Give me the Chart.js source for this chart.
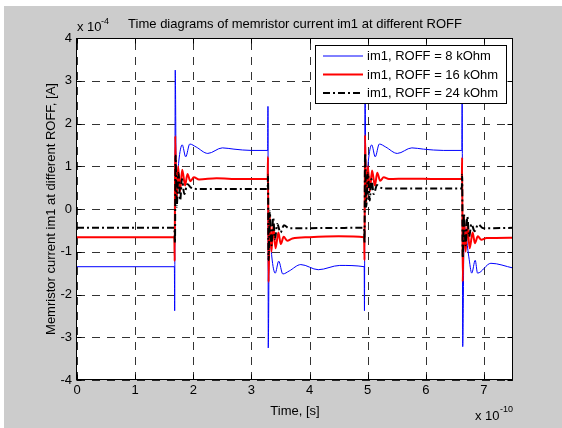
<!DOCTYPE html>
<html>
<head>
<meta charset="utf-8">
<script src="https://cdn.jsdelivr.net/npm/chart.js@4.4.0/dist/chart.umd.min.js"></script>
<style>
  html, body { margin: 0; padding: 0; background: #fff; }
  #wrap { width: 562px; height: 428px; }
</style>
</head>
<body>
<div id="wrap"><canvas id="chart" width="562" height="428"></canvas></div>
<script>
// time in units of 1e-10 s, current in units of 1e-4 A
const seriesLabels = ["im1, ROFF = 8 kOhm", "im1, ROFF = 16 kOhm", "im1, ROFF = 24 kOhm"];
const xTicks = [0, 1, 2, 3, 4, 5, 6, 7];
const yTicks = [-4, -3, -2, -1, 0, 1, 2, 3, 4];

// ROFF = 8 kOhm
const timeBlue = [0, 1.675, 1.68, 1.69, 1.71, 1.75, 1.81, 1.87, 1.94, 2.05, 2.25, 2.50, 2.70, 3.00, 3.28,
  3.285, 3.29, 3.31, 3.35, 3.41, 3.47, 3.54, 3.65, 3.85, 4.15, 4.52, 4.94,
  4.945, 4.955, 4.97, 5.01, 5.07, 5.13, 5.20, 5.31, 5.51, 5.76, 5.96, 6.30, 6.62,
  6.625, 6.635, 6.66, 6.74, 6.79, 6.85, 6.89, 7.12, 7.50];
const currBlue = [-1.35, -1.35, -2.38, 3.25, 0.30, 1.10, 1.50, 1.22, 1.52, 1.45, 1.30, 1.43, 1.40, 1.37, 1.37,
  2.40, -3.25, -0.30, -1.10, -1.50, -1.22, -1.52, -1.45, -1.30, -1.42, -1.32, -1.35,
  -2.38, 3.30, 0.30, 1.10, 1.50, 1.22, 1.52, 1.45, 1.30, 1.43, 1.40, 1.37, 1.37,
  3.00, -3.22, -0.40, -1.12, -1.50, -1.20, -1.50, -1.27, -1.38];

// ROFF = 16 kOhm
const timeRed = [0, 1.675, 1.68, 1.69, 1.71, 1.74, 1.77, 1.81, 1.86, 1.90, 1.95, 2.01, 2.10, 2.40, 2.80, 3.28,
  3.285, 3.295, 3.315, 3.345, 3.375, 3.415, 3.465, 3.505, 3.555, 3.615, 3.705, 4.00, 4.50, 4.94,
  4.945, 4.955, 4.975, 5.005, 5.035, 5.075, 5.125, 5.165, 5.215, 5.275, 5.365, 5.70, 6.20, 6.62,
  6.625, 6.635, 6.655, 6.685, 6.715, 6.755, 6.805, 6.845, 6.895, 6.955, 7.045, 7.50];
const currRed = [-0.66, -0.66, -1.22, 1.71, 0.15, 1.00, 0.40, 0.92, 0.55, 0.82, 0.65, 0.74, 0.69, 0.72, 0.70, 0.70,
  1.22, -1.71, -0.15, -1.00, -0.40, -0.92, -0.55, -0.82, -0.65, -0.74, -0.69, -0.66, -0.64, -0.66,
  -1.20, 1.73, 0.15, 1.00, 0.40, 0.90, 0.55, 0.85, 0.66, 0.74, 0.70, 0.71, 0.70, 0.70,
  1.20, -1.70, -0.15, -1.00, -0.40, -0.92, -0.55, -0.80, -0.64, -0.72, -0.68, -0.67];

// ROFF = 24 kOhm
const timeBlack = [0, 1.675, 1.685, 1.695, 1.715, 1.745, 1.775, 1.805, 1.845, 1.90, 1.96, 2.05, 3.28,
  3.285, 3.295, 3.315, 3.345, 3.375, 3.405, 3.445, 3.50, 3.56, 3.65, 4.94,
  4.945, 4.955, 4.975, 5.005, 5.035, 5.065, 5.105, 5.16, 5.22, 5.31, 6.62,
  6.625, 6.635, 6.655, 6.685, 6.715, 6.745, 6.785, 6.84, 6.90, 6.99, 7.50];
const currBlack = [-0.44, -0.44, -0.80, 1.25, 0.05, 0.85, 0.20, 0.70, 0.35, 0.58, 0.50, 0.47, 0.47,
  0.80, -1.20, -0.05, -0.85, -0.20, -0.70, -0.35, -0.55, -0.38, -0.45, -0.44,
  -0.80, 1.30, 0.05, 0.85, 0.20, 0.70, 0.35, 0.56, 0.50, 0.48, 0.48,
  0.80, -1.15, -0.10, -0.85, -0.18, -0.65, -0.35, -0.52, -0.36, -0.45, -0.44];

const FONT_FAMILY = '"Liberation Sans", Arial, sans-serif';

function toPoints(times, values) {
  return times.map((t, i) => ({ x: t, y: values[i] }));
}

// grid, box, inward ticks, legend and the matlab style labels
const matlabFrame = {
  id: "matlabFrame",
  beforeDraw(chart) {
    const ctx = chart.ctx;
    const a = chart.chartArea;
    ctx.save();
    ctx.fillStyle = "#ffffff";
    ctx.fillRect(0, 0, chart.width, chart.height);
    ctx.fillStyle = "#cccccc";
    ctx.fillRect(4, 6, chart.width - 4, chart.height - 6);
    ctx.fillStyle = "#ffffff";
    ctx.fillRect(a.left, a.top, a.right - a.left, a.bottom - a.top);
    ctx.restore();
  },
  beforeDatasetsDraw(chart) {
    const ctx = chart.ctx;
    const a = chart.chartArea;
    const xs = chart.scales.x;
    const ys = chart.scales.y;
    ctx.save();
    ctx.strokeStyle = "rgba(0,0,0,0.8)";
    ctx.lineWidth = 1;
    ctx.setLineDash([8, 7]);
    xTicks.forEach((v) => {
      const px = Math.round(xs.getPixelForValue(v)) + 0.5;
      ctx.beginPath();
      ctx.moveTo(px, a.bottom);
      ctx.lineTo(px, a.top);
      ctx.stroke();
    });
    yTicks.forEach((v) => {
      const py = Math.round(ys.getPixelForValue(v)) + 0.5;
      ctx.beginPath();
      ctx.moveTo(a.left, py);
      ctx.lineTo(a.right, py);
      ctx.stroke();
    });
    ctx.restore();
  },
  afterDatasetsDraw(chart) {
    const ctx = chart.ctx;
    const a = chart.chartArea;
    const xs = chart.scales.x;
    const ys = chart.scales.y;
    const L = a.left - 0.5, R = a.right - 0.5, T = a.top + 0.5, B = a.bottom - 0.5;
    ctx.save();
    ctx.strokeStyle = "#000";
    ctx.lineWidth = 1;
    ctx.setLineDash([]);
    // inward ticks on all sides
    const tl = 5;
    ctx.beginPath();
    xTicks.forEach((v) => {
      const px = Math.round(xs.getPixelForValue(v)) + 0.5;
      ctx.moveTo(px, B); ctx.lineTo(px, B - tl);
      ctx.moveTo(px, T); ctx.lineTo(px, T + tl);
    });
    yTicks.forEach((v) => {
      const py = Math.round(ys.getPixelForValue(v)) + 0.5;
      ctx.moveTo(L, py); ctx.lineTo(L + tl, py);
      ctx.moveTo(R, py); ctx.lineTo(R - tl, py);
    });
    ctx.stroke();
    ctx.strokeRect(L, T, R - L, B - T);

    // legend box
    const lx = 315.5, ly = 45.5, lw = 191, lh = 58;
    ctx.fillStyle = "#fff";
    ctx.fillRect(lx, ly, lw, lh);
    ctx.strokeRect(lx, ly, lw, lh);
    const rows = [56, 74.5, 93];
    ctx.font = "13px " + FONT_FAMILY;
    ctx.textBaseline = "middle";
    ctx.textAlign = "left";
    chart.data.datasets.forEach((ds, i) => {
      ctx.strokeStyle = ds.borderColor;
      ctx.lineWidth = ds.borderWidth;
      ctx.setLineDash(ds.borderDash || []);
      ctx.beginPath();
      ctx.moveTo(323, rows[i]);
      ctx.lineTo(363, rows[i]);
      ctx.stroke();
      ctx.fillStyle = "#000";
      ctx.fillText(seriesLabels[i], 367, rows[i] + 0.5);
    });
    ctx.setLineDash([]);

    // title and axis labels
    ctx.fillStyle = "#000";
    ctx.textBaseline = "alphabetic";
    ctx.textAlign = "center";
    ctx.fillText("Time diagrams of memristor current im1 at different ROFF", (a.left + a.right) / 2, 28);
    ctx.fillText("Time, [s]", (a.left + a.right) / 2, 415);

    ctx.save();
    ctx.translate(55, (a.top + a.bottom) / 2);
    ctx.rotate(-Math.PI / 2);
    ctx.fillText("Memristor current im1 at different ROFF, [A]", 0, 0);
    ctx.restore();

    // exponent labels
    ctx.textAlign = "left";
    ctx.font = "13px " + FONT_FAMILY;
    ctx.fillText("x 10", 77, 31);
    ctx.font = "9px " + FONT_FAMILY;
    ctx.fillText("-4", 101, 24);
    ctx.font = "13px " + FONT_FAMILY;
    ctx.fillText("x 10", 475, 420);
    ctx.font = "9px " + FONT_FAMILY;
    ctx.fillText("-10", 500, 412);
    ctx.restore();
  },
};

const ctx = document.getElementById("chart").getContext("2d");
const memristorChart = new Chart(ctx, {
  type: "line",
  data: {
    datasets: [
      {
        label: seriesLabels[0],
        data: toPoints(timeBlue, currBlue),
        borderColor: "#0000ff",
        borderWidth: 1,
        order: 3,
      },
      {
        label: seriesLabels[1],
        data: toPoints(timeRed, currRed),
        borderColor: "#ff0000",
        borderWidth: 2,
        order: 2,
      },
      {
        label: seriesLabels[2],
        data: toPoints(timeBlack, currBlack),
        borderColor: "#000000",
        borderWidth: 2,
        borderDash: [7, 3, 2, 3],
        order: 1,
      },
    ],
  },
  options: {
    responsive: false,
    animation: false,
    devicePixelRatio: 1,
    layout: { padding: { left: 0, top: 38, right: 49, bottom: 0 } },
    elements: { point: { radius: 0 }, line: { tension: 0.4, cubicInterpolationMode: "monotone" } },
    plugins: { legend: { display: false }, title: { display: false }, tooltip: { enabled: false } },
    scales: {
      x: {
        type: "linear",
        min: 0,
        max: 7.5,
        afterBuildTicks: (s) => { s.ticks = xTicks.map((v) => ({ value: v })); },
        afterFit: (s) => { s.height = 48; },
        grid: { display: false, drawTicks: false },
        border: { display: false },
        ticks: { color: "#000", padding: 3, maxRotation: 0, font: { size: 13, family: FONT_FAMILY } },
      },
      y: {
        type: "linear",
        min: -4,
        max: 4,
        afterBuildTicks: (s) => { s.ticks = yTicks.map((v) => ({ value: v })); },
        afterFit: (s) => { s.width = 77; },
        grid: { display: false, drawTicks: false },
        border: { display: false },
        ticks: { color: "#000", padding: 5, font: { size: 13, family: FONT_FAMILY } },
      },
    },
  },
  plugins: [matlabFrame],
});
</script>
</body>
</html>
